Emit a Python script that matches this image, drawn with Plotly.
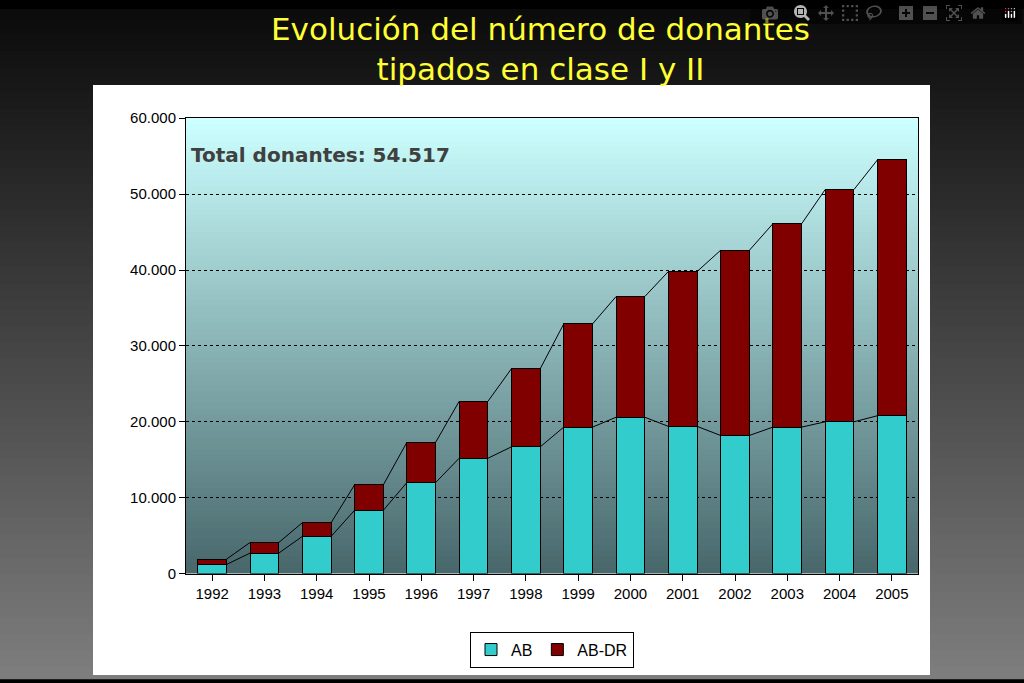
import plotly.graph_objects as go

years = [1992, 1993, 1994, 1995, 1996, 1997, 1998, 1999, 2000, 2001, 2002, 2003, 2004, 2005]
ab = [1200, 2700, 4900, 8350, 12000, 15200, 16700, 19300, 20600, 19400, 18200, 19300, 20000, 20800]
total = [1900, 4100, 6700, 11700, 17300, 22700, 27000, 32900, 36500, 39800, 42600, 46100, 50600, 54517]
ab_dr = [t - a for t, a in zip(total, ab)]
y_ticks = [0, 10000, 20000, 30000, 40000, 50000, 60000]
y_labels = ['0', '10.000', '20.000', '30.000', '40.000', '50.000', '60.000']

W, H = 1024, 683
bar_w = 0.55
xs = list(range(len(years)))

fig = go.Figure()
fig.add_trace(go.Bar(x=xs, y=ab, name='AB', width=bar_w, marker=dict(color='#33cccc', line=dict(color='black', width=1))))
fig.add_trace(go.Bar(x=xs, y=ab_dr, name='AB-DR', width=bar_w, marker=dict(color='#800000', line=dict(color='black', width=1))))

# connect right top edge of each bar to left top edge of the next
for series in (ab, total):
    for i in range(len(series) - 1):
        fig.add_trace(go.Scatter(x=[i + bar_w / 2, i + 1 - bar_w / 2], y=[series[i], series[i + 1]],
                                 mode='lines', line=dict(color='black', width=1),
                                 showlegend=False, hoverinfo='skip'))

shapes = []
n = 80
# page background gradient
for i in range(n):
    f = i / (n - 1)
    c = int(12 + f * (125 - 12))
    shapes.append(dict(type='rect', xref='paper', yref='paper', x0=0, x1=1,
                       y0=1 - (i + 1.5) / n, y1=1 - i / n, fillcolor=f'rgb({c},{c},{c})',
                       line=dict(width=0), layer='below'))
# white panel
shapes.append(dict(type='rect', xref='paper', yref='paper', x0=93 / W, x1=930 / W,
                   y0=0, y1=1 - 78 / H, fillcolor='white', line=dict(width=0), layer='below'))
# plot area gradient
px0, px1 = 186 / W, 918 / W
py0, py1 = 1 - 579 / H, 1 - 112 / H
top = (204, 255, 255)
bot = (72, 104, 108)
step = (py1 - py0) / n
for i in range(n):
    f = i / (n - 1)
    col = tuple(int(top[j] + f * (bot[j] - top[j])) for j in range(3))
    shapes.append(dict(type='rect', xref='paper', yref='paper', x0=px0, x1=px1,
                       y0=max(py0, py1 - (i + 1.5) * step), y1=py1 - i * step,
                       fillcolor=f'rgb{col}', line=dict(width=0), layer='below'))

fig.update_layout(
    width=W, height=H, margin=dict(l=0, r=0, t=0, b=0),
    barmode='stack', bargap=0.45,
    paper_bgcolor='black', plot_bgcolor='rgba(0,0,0,0)',
    shapes=shapes,
    font=dict(family='Liberation Sans, Arial', color='black', size=15),
    xaxis=dict(domain=[px0, px1], range=[-0.5, len(years) - 0.5], tickvals=xs,
               ticktext=[str(y) for y in years], showgrid=False, zeroline=False,
               showline=True, linecolor='black', mirror=True, ticks='outside',
               tickcolor='black', ticklen=6),
    yaxis=dict(domain=[py0, py1], range=[0, 60000], tickvals=y_ticks, ticktext=y_labels,
               showgrid=True, gridcolor='black', griddash='dot', gridwidth=1, zeroline=False,
               showline=True, linecolor='black', mirror=True, ticks='outside',
               tickcolor='black', ticklen=6),
    legend=dict(orientation='h', traceorder='normal', x=552 / W, xanchor='center',
                y=1 - 657 / H, yanchor='middle', itemwidth=30,
                bordercolor='black', borderwidth=1, bgcolor='white', font=dict(size=16)),
    annotations=[
        dict(text='Evolución del número de donantes<br>tipados en clase I y II', xref='paper', yref='paper',
             x=540 / W, y=1 - 41 / H, xanchor='center', yanchor='middle', showarrow=False,
             font=dict(family='DejaVu Sans', size=31, color='#ffff33')),
        dict(text='<b>Total donantes: 54.517</b>', xref='paper', yref='paper',
             x=189 / W, y=1 - 150 / H, xanchor='left', yanchor='middle', showarrow=False,
             font=dict(family='DejaVu Sans', size=20, color='#404040')),
    ],
)

fig.write_html('out.html', post_script="document.body.style.margin='0';")
